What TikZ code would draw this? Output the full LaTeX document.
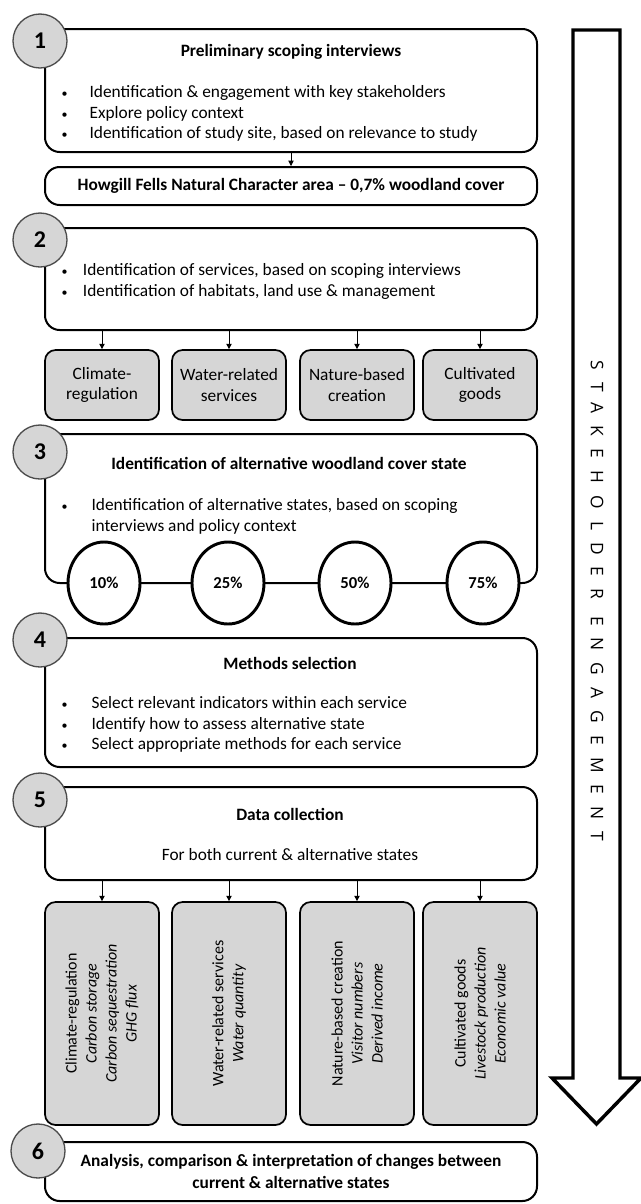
\documentclass[tikz,border=0pt]{standalone}
\usepackage{fontspec}
\setmainfont{Carlito}
\newfontfamily\engfont{Open Sans}[LetterSpace=70]
\usetikzlibrary{arrows.meta,positioning,shapes.geometric}

\newcommand{\bul}[1][22pt]{\makebox[#1][l]{\hspace{1pt}\fontsize{9}{9}\selectfont\textbullet}}

\tikzset{
  stage/.style={draw=black,line width=1.5pt,rounded corners=11pt,minimum width=369pt,inner sep=0pt},
  num/.style={circle,draw=black!70,fill=black!16,line width=1pt,minimum size=40.5pt,inner sep=0pt,
    font=\fontsize{18}{18}\selectfont\bfseries},
  service/.style={draw=black,line width=1.3pt,fill=black!16,rounded corners=8pt,inner sep=0pt,
    minimum width=85.5pt,align=center,font=\fontsize{13}{15.5}\selectfont},
  cover/.style={ellipse,draw=black,line width=2.2pt,fill=white,minimum width=54pt,minimum height=61.5pt,
    inner sep=0pt,font=\bfseries\fontsize{12.5}{14}\selectfont},
  blist/.style={anchor=north west,align=left,inner sep=0pt,font=\fontsize{13}{15.6}\selectfont},
  head/.style={font=\bfseries\fontsize{13}{16.5}\selectfont},
  tall/.style={rotate=90,align=center,font=\fontsize{12}{15}\selectfont},
  link/.style={-{Triangle[length=4pt,width=4pt]},line width=0.6pt},
}

\begin{document}
\begin{tikzpicture}[x=0.75pt,y=-0.75pt]
\useasboundingbox (0,0) rectangle (641,1204);

% stakeholder arrow
\draw[line width=2.6pt,line join=miter,fill=white] (573,30) -- (620,30) -- (620,1078) -- (641,1078)
  -- (596.5,1124) -- (552,1078) -- (573,1078) -- cycle;
\node[rotate=-90,font=\engfont\fontsize{13}{13}\selectfont] (engage) at (597,601) {STAKEHOLDER ENGAGEMENT};

% 1
\node[stage,minimum height=92.25pt] (box1) at (291,90.5) {};
\node[num] (n1) at (40,41) {1};
\node[head] (t1) at (291,52) {Preliminary scoping interviews};
\node[blist] (l1) at (60,85) {\bul[22pt]Identification \& engagement with key stakeholders\\
  \bul[22pt]Explore policy context\\
  \bul[22pt]Identification of study site, based on relevance to study};

\node[stage,minimum height=28.5pt,head] (site) at (291,186)
  {Howgill Fells Natural Character area -- 0,7\% woodland cover};
\draw[link] (box1.south -| site.north) -- (site.north);

% 2
\node[stage,minimum height=76.5pt] (box2) at (291,279) {};
\node[num] (n2) at (40,240) {2};
\node[blist] (l2) at (60,263) {\bul[17pt]Identification of services, based on scoping interviews\\
  \bul[17pt]Identification of habitats, land use \& management};

\node[service,minimum height=52.5pt] (clim) at (102,385) {Climate-\\regulation};
\node[service,minimum height=52.5pt] (water) at (229,385) {Water-related\\services};
\node[service,minimum height=52.5pt] (nature) at (357,385) {Nature-based\\creation};
\node[service,minimum height=52.5pt] (goods) at (480,385) {Cultivated\\goods};
\foreach \s in {clim,water,nature,goods}
  \draw[link] (box2.south -| \s.north) -- (\s.north);

% 3
\node[stage,minimum height=111.75pt] (box3) at (291,508.5) {};
\node[num] (n3) at (40,452) {3};
\node[head] (t3) at (289,463) {Identification of alternative woodland cover state};
\node[blist] (l3) at (60,498) {\bul[23.5pt]Identification of alternative states, based on scoping\\
  \hspace*{23.5pt}interviews and policy context};
\node[cover] (c10) at (104,583) {10\%};
\node[cover] (c25) at (228,583) {25\%};
\node[cover] (c50) at (355,583) {50\%};
\node[cover] (c75) at (483,583) {75\%};

% 4
\node[stage,minimum height=96.75pt] (box4) at (291,702.5) {};
\node[num] (n4) at (40,640) {4};
\node[head] (t4) at (290,663) {Methods selection};
\node[blist] (l4) at (60,696) {\bul[23.5pt]Select relevant indicators within each service\\
  \bul[23.5pt]Identify how to assess alternative state\\
  \bul[23.5pt]Select appropriate methods for each service};

% 5
\node[stage,minimum height=69.75pt] (box5) at (291,833.5) {};
\node[num] (n5) at (40,800) {5};
\node[head] (t5) at (290,814) {Data collection};
\node[font=\fontsize{13}{15}\selectfont] (s5) at (290,855) {For both current \& alternative states};

\node[service,minimum height=167.25pt] (tclim) at (102,1013.5) {};
\node[service,minimum height=167.25pt] (twater) at (229,1013.5) {};
\node[service,minimum height=167.25pt] (tnature) at (357,1013.5) {};
\node[service,minimum height=167.25pt] (tgoods) at (480,1013.5) {};
\node[tall] (xclim) at (tclim)
  {Climate-regulation\\\textit{Carbon storage}\\\textit{Carbon sequestration}\\\textit{GHG flux}};
\node[tall] (xwater) at (twater) {Water-related services\\\textit{Water quantity}};
\node[tall] (xnature) at (tnature) {Nature-based creation\\\textit{Visitor numbers}\\\textit{Derived income}};
\node[tall] (xgoods) at (tgoods) {Cultivated goods\\\textit{Livestock production}\\\textit{Economic value}};
\foreach \s in {tclim,twater,tnature,tgoods}
  \draw[link] (box5.south -| \s.north) -- (\s.north);

% 6
\node[stage,minimum height=44.25pt,head,align=center] (box6) at (291,1171.5)
  {Analysis, comparison \& interpretation of changes between\\current \& alternative states};
\node[num] (n6) at (38,1151) {6};
\end{tikzpicture}
\end{document}
